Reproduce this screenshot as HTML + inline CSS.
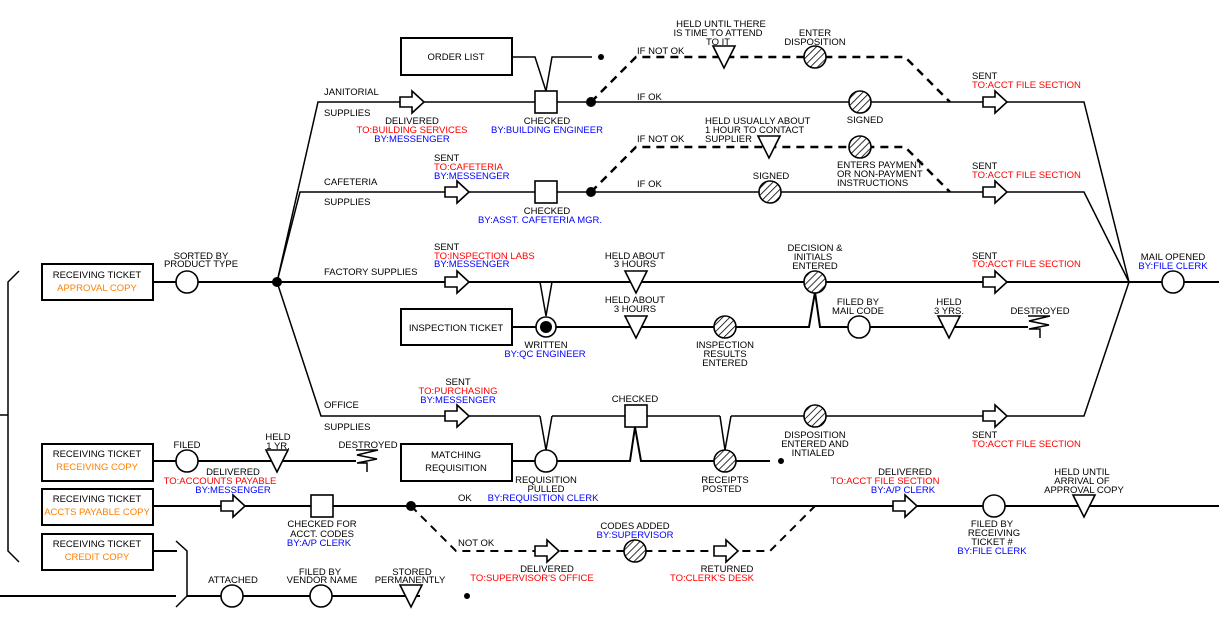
<!DOCTYPE html>
<html><head><meta charset="utf-8"><style>
html,body{margin:0;padding:0;background:#fff;}
svg{display:block;}
text{font-family:"Liberation Sans",Arial,sans-serif;font-size:9.5px;fill:#000;text-anchor:middle;}
.l{text-anchor:start;}
.r{fill:#ff0000;}
.b{fill:#0000ff;}
.o{fill:#ff8000;}
</style></head><body>
<svg width="1219" height="623" viewBox="0 0 1219 623" xmlns="http://www.w3.org/2000/svg">
<defs>
<pattern id="h" patternUnits="userSpaceOnUse" width="5" height="5" patternTransform="rotate(45)">
<rect width="5" height="5" fill="#fff"/><line x1="0" y1="0" x2="0" y2="5" stroke="#000" stroke-width="1.6"/>
</pattern>
</defs>
<g fill="none" stroke="#000">
<path d="M19,271 L8,282 V551 L19,562 M0,415 H8" stroke-width="1.5"/>
<rect x="42" y="264" width="111" height="36" stroke-width="2"/>
<rect x="42" y="444" width="111" height="37" stroke-width="2"/>
<rect x="42" y="489" width="111" height="36" stroke-width="2"/>
<rect x="42" y="534" width="111" height="36" stroke-width="2"/>
<rect x="401" y="38" width="111" height="37" stroke-width="2"/>
<rect x="401" y="309" width="111" height="36" stroke-width="2"/>
<rect x="401" y="444" width="111" height="37" stroke-width="2"/>
<path d="M153,282 H1219" stroke-width="2"/>
<path d="M277,282 L318,102 H1084 L1129,282" stroke-width="1.5"/>
<path d="M277,282 L300,192 H1084 L1129,282" stroke-width="1.5"/>
<path d="M277,282 L321,416 H540 M552,416 H720 M731,416 H1084 L1129,282" stroke-width="1.5"/>
<path d="M512,57 H535 L546,91 L552,57 H592" stroke-width="1.5"/>
<path d="M591,102 L636,57 H905 L950,102" stroke-width="2.5" stroke-dasharray="8,6"/>
<path d="M591,192 L636,147 H905 L950,192" stroke-width="2.5" stroke-dasharray="8,6"/>
<path d="M540,282 L546,316 L552,282" stroke-width="1.5"/>
<path d="M512,327 H809 L815,292 L820,327 H1028" stroke-width="2"/>
<path d="M1028,316 H1050 L1029,321 L1049,325 L1029,329 H1040 V338" stroke-width="1.5"/>
<path d="M540,416 L546,450 L552,416" stroke-width="1.5"/>
<path d="M720,416 L725,450 L731,416" stroke-width="1.5"/>
<path d="M512,461 H630 L635,427 L641,461 H770" stroke-width="2"/>
<path d="M153,461 H356" stroke-width="2"/>
<path d="M356,450 H378 L357,455 L377,459 L357,463 H367 V472" stroke-width="1.5"/>
<path d="M153,506 H1219" stroke-width="2"/>
<path d="M411,506 L456,551 H770 L815,506" stroke-width="2" stroke-dasharray="8,6"/>
<path d="M153,551 H177" stroke-width="2"/>
<path d="M176,541 L187,551 V596 L176,607" stroke-width="1.5"/>
<path d="M0,596 H176 M187,596 H420" stroke-width="2"/>
</g>
<g fill="#fff" stroke="#000" stroke-width="1.6">
<path d="M400,97 h12 v-6 l12,11 l-12,11 v-6 h-12z"/>
<path d="M445,187 h12 v-6 l12,11 l-12,11 v-6 h-12z"/>
<path d="M445,277 h12 v-6 l12,11 l-12,11 v-6 h-12z"/>
<path d="M445,411 h12 v-6 l12,11 l-12,11 v-6 h-12z"/>
<path d="M983,97 h12 v-6 l12,11 l-12,11 v-6 h-12z"/>
<path d="M983,187 h12 v-6 l12,11 l-12,11 v-6 h-12z"/>
<path d="M983,277 h12 v-6 l12,11 l-12,11 v-6 h-12z"/>
<path d="M983,411 h12 v-6 l12,11 l-12,11 v-6 h-12z"/>
<path d="M221,501 h12 v-6 l12,11 l-12,11 v-6 h-12z"/>
<path d="M893,501 h12 v-6 l12,11 l-12,11 v-6 h-12z"/>
<path d="M535,546 h12 v-6 l12,11 l-12,11 v-6 h-12z"/>
<path d="M714,546 h12 v-6 l12,11 l-12,11 v-6 h-12z"/>
<rect x="535" y="91" width="22" height="22"/>
<rect x="535" y="181" width="22" height="22"/>
<rect x="625" y="405" width="22" height="22"/>
<rect x="311" y="495" width="22" height="22"/>
<path d="M713,46 h22 l-11,22z"/>
<path d="M758,136 h22 l-11,22z"/>
<path d="M625,271 h22 l-11,22z"/>
<path d="M625,316 h22 l-11,22z"/>
<path d="M938,316 h22 l-11,22z"/>
<path d="M266,450 h22 l-11,22z"/>
<path d="M1073,495 h22 l-11,22z"/>
<path d="M400,585 h22 l-11,22z"/>
<circle cx="187" cy="282" r="11"/>
<circle cx="1173" cy="282" r="11"/>
<circle cx="859" cy="327" r="11"/>
<circle cx="546" cy="461" r="11"/>
<circle cx="187" cy="461" r="11"/>
<circle cx="994" cy="506" r="11"/>
<circle cx="232" cy="596" r="11"/>
<circle cx="321" cy="596" r="11"/>
<circle cx="546" cy="327" r="10"/>
</g>
<g fill="url(#h)" stroke="#000" stroke-width="1.6">
<circle cx="815" cy="57" r="11"/>
<circle cx="860" cy="102" r="11"/>
<circle cx="860" cy="147" r="11"/>
<circle cx="770" cy="192" r="11"/>
<circle cx="815" cy="282" r="11"/>
<circle cx="725" cy="327" r="11"/>
<circle cx="815" cy="416" r="11"/>
<circle cx="725" cy="461" r="11"/>
<circle cx="635" cy="551" r="11"/>
</g>
<g fill="#000">
<circle cx="277" cy="282" r="5"/>
<circle cx="591" cy="102" r="5"/>
<circle cx="591" cy="192" r="5"/>
<circle cx="411" cy="506" r="5"/>
<circle cx="546" cy="327" r="6"/>
<circle cx="601" cy="57" r="3"/>
<circle cx="781" cy="461" r="3"/>
<circle cx="467" cy="596" r="3"/>
</g>
<text x="97" y="278">RECEIVING TICKET</text><text x="97" y="291" class="o">APPROVAL COPY</text>
<text x="97" y="457">RECEIVING TICKET</text><text x="97" y="470" class="o">RECEIVING COPY</text>
<text x="97" y="502">RECEIVING TICKET</text><text x="97" y="515" class="o">ACCTS PAYABLE COPY</text>
<text x="97" y="547">RECEIVING TICKET</text><text x="97" y="560" class="o">CREDIT COPY</text>
<text x="456" y="60">ORDER LIST</text>
<text x="456" y="331">INSPECTION TICKET</text>
<text x="456" y="458">MATCHING</text><text x="456" y="471">REQUISITION</text>
<text x="201" y="259">SORTED BY</text><text x="201" y="267">PRODUCT TYPE</text>
<text x="324" y="95" class="l">JANITORIAL</text><text x="324" y="116" class="l">SUPPLIES</text>
<text x="324" y="185" class="l">CAFETERIA</text><text x="324" y="205" class="l">SUPPLIES</text>
<text x="324" y="275" class="l">FACTORY SUPPLIES</text>
<text x="324" y="408" class="l">OFFICE</text><text x="324" y="430" class="l">SUPPLIES</text>
<text x="412" y="124">DELIVERED</text><text x="412" y="133" class="r">TO:BUILDING SERVICES</text><text x="412" y="142" class="b">BY:MESSENGER</text>
<text x="547" y="124">CHECKED</text><text x="547" y="133" class="b">BY:BUILDING ENGINEER</text>
<text x="637" y="54" class="l">IF NOT OK</text><text x="637" y="100" class="l">IF OK</text>
<text x="721" y="27">HELD UNTIL THERE</text><text x="718" y="36">IS TIME TO ATTEND</text><text x="718" y="45">TO IT</text>
<text x="815" y="36">ENTER</text><text x="815" y="45">DISPOSITION</text>
<text x="865" y="123">SIGNED</text>
<text x="972" y="79" class="l">SENT</text><text x="972" y="88" class="l r">TO:ACCT FILE SECTION</text>
<text x="434" y="161" class="l">SENT</text><text x="434" y="170" class="l r">TO:CAFETERIA</text><text x="434" y="179" class="l b">BY:MESSENGER</text>
<text x="547" y="214">CHECKED</text><text x="540" y="223" class="b">BY:ASST. CAFETERIA MGR.</text>
<text x="637" y="142" class="l">IF NOT OK</text><text x="637" y="187" class="l">IF OK</text>
<text x="705" y="124" class="l">HELD USUALLY ABOUT</text><text x="705" y="133" class="l">1 HOUR TO CONTACT</text><text x="705" y="142" class="l">SUPPLIER</text>
<text x="837" y="168" class="l">ENTERS PAYMENT</text><text x="837" y="177" class="l">OR NON-PAYMENT</text><text x="837" y="186" class="l">INSTRUCTIONS</text>
<text x="771" y="179">SIGNED</text>
<text x="972" y="169" class="l">SENT</text><text x="972" y="178" class="l r">TO:ACCT FILE SECTION</text>
<text x="434" y="250" class="l">SENT</text><text x="434" y="259" class="l r">TO:INSPECTION LABS</text><text x="434" y="267" class="l b">BY:MESSENGER</text>
<text x="635" y="259">HELD ABOUT</text><text x="635" y="267">3 HOURS</text>
<text x="635" y="303">HELD ABOUT</text><text x="635" y="312">3 HOURS</text>
<text x="815" y="251">DECISION &amp;</text><text x="813" y="260">INITIALS</text><text x="815" y="269">ENTERED</text>
<text x="972" y="259" class="l">SENT</text><text x="972" y="267" class="l r">TO:ACCT FILE SECTION</text>
<text x="1173" y="260">MAIL OPENED</text><text x="1173" y="269" class="b">BY:FILE CLERK</text>
<text x="546" y="348">WRITTEN</text><text x="545" y="357" class="b">BY:QC ENGINEER</text>
<text x="725" y="348">INSPECTION</text><text x="725" y="357">RESULTS</text><text x="725" y="366">ENTERED</text>
<text x="858" y="305">FILED BY</text><text x="858" y="314">MAIL CODE</text>
<text x="949" y="305">HELD</text><text x="949" y="314">3 YRS.</text>
<text x="1040" y="314">DESTROYED</text>
<text x="458" y="385">SENT</text><text x="458" y="394" class="r">TO:PURCHASING</text><text x="458" y="403" class="b">BY:MESSENGER</text>
<text x="635" y="402">CHECKED</text>
<text x="815" y="438">DISPOSITION</text><text x="815" y="447">ENTERED AND</text><text x="813" y="456">INTIALED</text>
<text x="972" y="438" class="l">SENT</text><text x="972" y="447" class="l r">TO:ACCT FILE SECTION</text>
<text x="546" y="483">REQUISITION</text><text x="546" y="492">PULLED</text><text x="543" y="501" class="b">BY:REQUISITION CLERK</text>
<text x="725" y="483">RECEIPTS</text><text x="722" y="492">POSTED</text>
<text x="187" y="448">FILED</text>
<text x="278" y="440">HELD</text><text x="278" y="449">1 YR.</text>
<text x="368" y="448">DESTROYED</text>
<text x="233" y="475">DELIVERED</text><text x="220" y="484" class="r">TO:ACCOUNTS PAYABLE</text><text x="233" y="493" class="b">BY:MESSENGER</text>
<text x="322" y="527">CHECKED FOR</text><text x="322" y="537">ACCT. CODES</text><text x="319" y="546" class="b">BY:A/P CLERK</text>
<text x="458" y="501" class="l">OK</text>
<text x="458" y="546" class="l">NOT OK</text>
<text x="547" y="572">DELIVERED</text><text x="532" y="581" class="r">TO:SUPERVISOR'S OFFICE</text>
<text x="635" y="529">CODES ADDED</text><text x="635" y="538" class="b">BY:SUPERVISOR</text>
<text x="727" y="572">RETURNED</text><text x="712" y="581" class="r">TO:CLERK'S DESK</text>
<text x="905" y="475">DELIVERED</text><text x="885" y="484" class="r">TO:ACCT FILE SECTION</text><text x="903" y="493" class="b">BY:A/P CLERK</text>
<text x="992" y="527">FILED BY</text><text x="994" y="536">RECEIVING</text><text x="992" y="545">TICKET #</text><text x="992" y="554" class="b">BY:FILE CLERK</text>
<text x="1082" y="475">HELD UNTIL</text><text x="1082" y="484">ARRIVAL OF</text><text x="1084" y="493">APPROVAL COPY</text>
<text x="233" y="583">ATTACHED</text>
<text x="320" y="575">FILED BY</text><text x="322" y="583">VENDOR NAME</text>
<text x="412" y="575">STORED</text><text x="410" y="583">PERMANENTLY</text>
</svg>
</body></html>
